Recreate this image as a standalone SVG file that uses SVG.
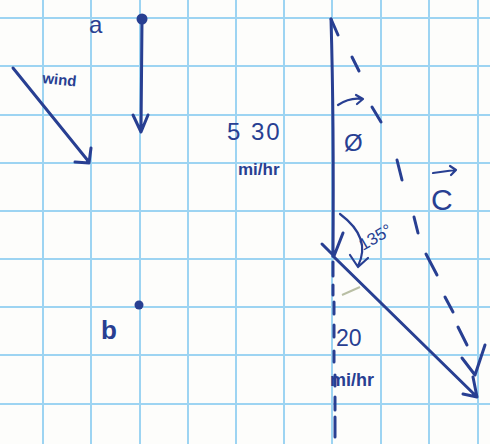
<svg xmlns="http://www.w3.org/2000/svg" width="490" height="444" viewBox="0 0 490 444">
  <defs>
    <style>
      .grid line { stroke: #9dd4f2; stroke-width: 2; }
      .ink { stroke: #283f92; stroke-width: 3; fill: none; stroke-linecap: round; stroke-linejoin: round; }
      .thin { stroke: #283f92; stroke-width: 2.2; fill: none; stroke-linecap: round; stroke-linejoin: round; }
      .txt { fill: #283f92; font-family: "Liberation Sans", "DejaVu Sans", sans-serif; }
    </style>
  </defs>
  <rect x="0" y="0" width="490" height="444" fill="#fdfdfb"/>
  <g id="grid" class="grid">
    <line x1="43" y1="0" x2="43" y2="444"/>
    <line x1="91" y1="0" x2="91" y2="444"/>
    <line x1="140" y1="0" x2="140" y2="444"/>
    <line x1="188" y1="0" x2="188" y2="444"/>
    <line x1="236" y1="0" x2="236" y2="444"/>
    <line x1="284" y1="0" x2="284" y2="444"/>
    <line x1="332" y1="0" x2="332" y2="444"/>
    <line x1="381" y1="0" x2="381" y2="444"/>
    <line x1="429" y1="0" x2="429" y2="444"/>
    <line x1="478" y1="0" x2="478" y2="444"/>
    <line x1="0" y1="18" x2="490" y2="18"/>
    <line x1="0" y1="66" x2="490" y2="66"/>
    <line x1="0" y1="115" x2="490" y2="115"/>
    <line x1="0" y1="163" x2="490" y2="163"/>
    <line x1="0" y1="211" x2="490" y2="211"/>
    <line x1="0" y1="259" x2="490" y2="259"/>
    <line x1="0" y1="307" x2="490" y2="307"/>
    <line x1="0" y1="355" x2="490" y2="355"/>
    <line x1="0" y1="404" x2="490" y2="404"/>
  </g>
  <g id="node-a">
    <circle cx="142" cy="19" r="5.5" fill="#283f92"/>
    <text class="txt" x="89" y="33" font-size="24">a</text>
  </g>
  <g id="node-b">
    <circle cx="139" cy="305" r="4.5" fill="#283f92"/>
    <text class="txt" x="101" y="339" font-size="26" font-weight="bold">b</text>
  </g>
  <g id="wind">
    <text class="txt" x="42" y="83" font-size="15" font-weight="bold" transform="rotate(6 42 83)">wind</text>
  </g>
  <g id="labels">
    <text class="txt" x="227" y="140" font-size="24" letter-spacing="2">5 30</text>
    <text class="txt" x="238" y="175" font-size="17" font-weight="bold">mi/hr</text>
    <text class="txt" x="344" y="151" font-size="24">Ø</text>
    <path class="thin" d="M338 105 Q350 97 362 99 M356 95 L363 99 L357 104"/>
    <text class="txt" x="431" y="210" font-size="30">C</text>
    <path class="thin" d="M433 173 L455 170 M450 166 L456 170 L451 175"/>
    <text class="txt" x="363" y="251" font-size="17" transform="rotate(-30 363 251)">135°</text>
    <text class="txt" x="336" y="346" font-size="23">20</text>
    <text class="txt" x="330" y="386" font-size="18" font-weight="bold">mi/hr</text>
  </g>
  <g id="connectors">
    <path class="ink" d="M13 68 L89 162 M75 162 L89 163 L91 148"/>
    <path class="ink" d="M142 21 L141 131 M133 115 L141 132 L148 115"/>
    <path class="ink" d="M331 19 Q334 120 333 256 M322 244 L334 256 L343 233"/>
    <path class="ink" d="M333 256 L477 397 M463 394 L477 397 L473 377"/>
    <path class="ink" d="M331 19 L338 35 M352 57 L359 71 M372 107 L381 122 M397 160 L402 180 M414 217 L418 233 M426 254 L437 275 M445 297 L453 312 M458 327 L467 345 M462 358 L475 375 L485 345"/>
    <path class="ink" stroke-width="2.5" d="M333 262 L333 276 M333 285 L333 295 M334 302 L334 314 M334 325 L334 337 M334 351 L334 362 M335 375 L335 386 M335 397 L335 410 M335 417 L335 437"/>
    <path class="thin" d="M340 214 Q372 238 358 266 M350 255 L358 267 L368 258"/>
    <path d="M342 295 L360 287" stroke="#b9bfa4" stroke-width="2" fill="none"/>
  </g>
</svg>
